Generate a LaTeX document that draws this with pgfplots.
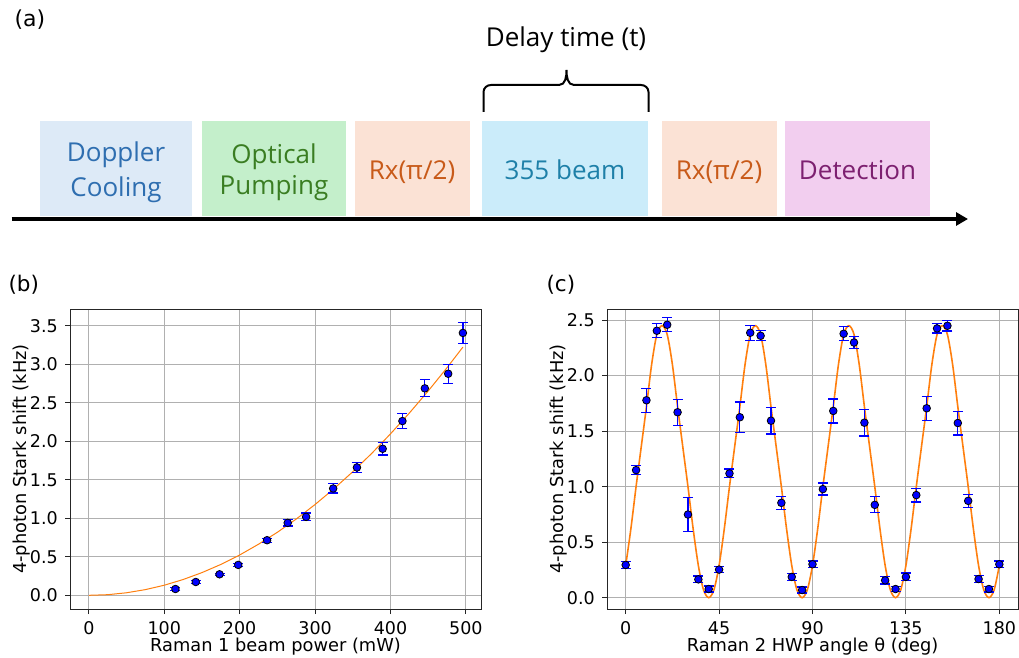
\documentclass[border=0pt]{standalone}
\usepackage{fontspec}
\setmainfont{DejaVu Sans}
\newfontfamily\boxfont{Open Sans}
\usepackage{pgfplots}
\pgfplotsset{compat=1.18}
\usetikzlibrary{arrows.meta}

\definecolor{dopfill}{RGB}{221,234,247}
\definecolor{doptext}{RGB}{46,110,176}
\definecolor{optfill}{RGB}{196,239,203}
\definecolor{opttext}{RGB}{58,125,34}
\definecolor{rxfill}{RGB}{251,226,213}
\definecolor{rxtext}{RGB}{200,90,25}
\definecolor{beamfill}{RGB}{203,236,250}
\definecolor{beamtext}{RGB}{30,128,168}
\definecolor{detfill}{RGB}{242,206,239}
\definecolor{dettext}{RGB}{125,32,112}
\definecolor{fitorange}{RGB}{255,127,14}
\definecolor{gridgray}{RGB}{176,176,176}

\pgfplotsset{
  panel/.style={
    scale only axis, width=411pt, height=300pt, anchor=south west,
    axis line style={line width=1pt, black!85},
    grid=major, major grid style={line width=0.9pt, gridgray},
    tick align=outside, tickpos=left, major tick length=5pt,
    major tick style={line width=1pt, black!85},
    every tick label/.append style={font=\fontsize{17.5}{21}\selectfont},
    /pgf/number format/assume math mode=true,
    xticklabel style={inner sep=0pt, anchor=north, yshift=-7.7pt},
    yticklabel style={inner sep=0pt, anchor=east, xshift=-7pt,
      /pgf/number format/fixed, /pgf/number format/fixed zerofill,
      /pgf/number format/precision=1},
  },
  errs/.style={only marks, mark=none, blue,
    error bars/.cd, y dir=both, y explicit,
    error bar style={draw=blue, line width=1.2pt},
    error mark options={draw=blue, line width=1.2pt, rotate=90, mark size=5pt}},
  dots/.style={only marks, mark=*, mark size=3.8pt,
    mark options={fill=blue, draw=black, line width=0.8pt}},
}

\begin{document}
\begin{tikzpicture}[x=1pt,y=1pt]
\useasboundingbox (0,0) rectangle (1019,657);

% (a) sequence
\node[anchor=base west, font=\fontsize{22}{26}\selectfont] at (11,630) {(a)};
\fill[dopfill]  (40.3,440.5) rectangle (191.6,536.3);
\fill[optfill]  (202,440.5) rectangle (346,536.3);
\fill[rxfill]   (354.5,440.5) rectangle (470,536.3);
\fill[beamfill] (481.8,440.5) rectangle (648,536.3);
\fill[rxfill]   (661.7,440.5) rectangle (776.6,536.3);
\fill[detfill]  (785,440.5) rectangle (930,536.3);
\begin{scope}[every node/.style={anchor=base, font=\boxfont\fontsize{26}{30}\selectfont}]
\node[text=doptext] at (116,495) {Doppler};
\node[text=doptext] at (116,460.5) {Cooling};
\node[text=opttext] at (274,493.7) {Optical};
\node[text=opttext] at (274,462) {Pumping};
\node[text=rxtext] at (412,477) {Rx(π/2)};
\node[text=beamtext] at (565,477) {355 beam};
\node[text=rxtext] at (719,477) {Rx(π/2)};
\node[text=dettext] at (857.5,477) {Detection};
\node[text=black] at (566,610) {Delay time (t)};
\end{scope}
\draw[line width=2pt] (483.5,545) -- (483.5,565) to[out=90,in=180] (491,572)
  -- (559,572) to[out=0,in=-90] (566.5,587) to[out=-90,in=180] (574,572)
  -- (641,572) to[out=0,in=90] (648.5,565) -- (648.5,545);
\draw[line width=4.5pt, -{Triangle[length=12pt,width=13pt]}] (11.7,438) -- (968,438);

% (b) power scan
\node[anchor=base west, font=\fontsize{21.5}{26}\selectfont] at (5,366) {(b)};
\begin{axis}[panel, at={(70pt,48pt)},
  xmin=-25, xmax=520, ymin=-0.178, ymax=3.72,
  xtick={0,100,200,300,400,500}, ytick={0,0.5,1,1.5,2,2.5,3,3.5}]
\addplot[fitorange, line width=1pt] coordinates {
(0,0) (25,0.008) (50,0.033) (75,0.074) (100,0.131) (125,0.205) (150,0.295)
(175,0.401) (200,0.524) (225,0.664) (250,0.819) (275,0.991) (300,1.180)
(325,1.385) (350,1.606) (375,1.843) (400,2.098) (425,2.368) (450,2.655)
(475,2.958) (496,3.225)};
\addplot[errs] table[x=x, y=y, y error=e] {
x y e
114.8 0.082 0.015
141.8 0.173 0.015
173.3 0.273 0.015
198.1 0.395 0.020
236.3 0.716 0.025
263.7 0.941 0.040
288.1 1.019 0.050
324.0 1.388 0.060
355.5 1.661 0.067
389.6 1.904 0.080
415.8 2.264 0.100
445.5 2.689 0.110
476.5 2.879 0.125
496.0 3.409 0.137
};
\addplot[dots] table[x=x, y=y] {
x y
114.8 0.082
141.8 0.173
173.3 0.273
198.1 0.395
236.3 0.716
263.7 0.941
288.1 1.019
324.0 1.388
355.5 1.661
389.6 1.904
415.8 2.264
445.5 2.689
476.5 2.879
496.0 3.409
};
\end{axis}
\node[anchor=base, font=\fontsize{17.8}{21}\selectfont] at (275.5,6) {Raman 1 beam power (mW)};
\node[anchor=base, rotate=90, font=\fontsize{17.8}{21}\selectfont] at (26.5,198) {4-photon Stark shift (kHz)};

% (c) HWP angle scan
\node[anchor=base west, font=\fontsize{21.5}{26}\selectfont] at (543,366) {(c)};
\begin{axis}[panel, at={(607pt,48pt)},
  xmin=-9, xmax=189, ymin=-0.102, ymax=2.6,
  xtick={0,45,90,135,180}, ytick={0,0.5,1,1.5,2,2.5}]
\addplot[fitorange, line width=1.6pt, smooth] coordinates {
(0,0.29) (2.5,0.62) (5,1.00) (7.5,1.36) (10,1.72) (12.5,2.10) (15,2.37)
(17.5,2.45) (20,2.37) (22.5,2.10) (25,1.72) (27.5,1.36) (30,1.00) (32.5,0.62)
(35,0.29) (37.5,0.07) (40,0) (42.5,0.07)
(45,0.29) (47.5,0.62) (50,1.00) (52.5,1.36) (55,1.72) (57.5,2.10) (60,2.37)
(62.5,2.45) (65,2.37) (67.5,2.10) (70,1.72) (72.5,1.36) (75,1.00) (77.5,0.62)
(80,0.29) (82.5,0.07) (85,0) (87.5,0.07)
(90,0.29) (92.5,0.62) (95,1.00) (97.5,1.36) (100,1.72) (102.5,2.10) (105,2.37)
(107.5,2.45) (110,2.37) (112.5,2.10) (115,1.72) (117.5,1.36) (120,1.00) (122.5,0.62)
(125,0.29) (127.5,0.07) (130,0) (132.5,0.07)
(135,0.29) (137.5,0.62) (140,1.00) (142.5,1.36) (145,1.72) (147.5,2.10) (150,2.37)
(152.5,2.45) (155,2.37) (157.5,2.10) (160,1.72) (162.5,1.36) (165,1.00) (167.5,0.62)
(170,0.29) (172.5,0.07) (175,0) (177.5,0.07) (180,0.29)};
\addplot[errs] table[x=x, y=y, y error=e] {
x y e
0 0.295 0.030
5 1.149 0.042
10 1.778 0.107
15 2.404 0.063
20 2.458 0.063
25 1.670 0.117
30 0.749 0.152
35 0.165 0.030
40 0.078 0.027
45 0.253 0.029
50 1.119 0.040
55 1.625 0.137
60 2.386 0.068
65 2.359 0.045
70 1.594 0.120
75 0.854 0.057
80 0.187 0.030
85 0.069 0.027
90 0.301 0.030
95 0.978 0.054
100 1.682 0.108
105 2.377 0.062
110 2.298 0.056
115 1.576 0.120
120 0.836 0.072
125 0.156 0.033
130 0.078 0.024
135 0.187 0.035
140 0.924 0.062
145 1.706 0.108
150 2.425 0.042
155 2.449 0.047
160 1.573 0.107
165 0.872 0.059
170 0.168 0.030
175 0.078 0.026
180 0.301 0.030
};
\addplot[dots] table[x=x, y=y] {
x y
0 0.295
5 1.149
10 1.778
15 2.404
20 2.458
25 1.670
30 0.749
35 0.165
40 0.078
45 0.253
50 1.119
55 1.625
60 2.386
65 2.359
70 1.594
75 0.854
80 0.187
85 0.069
90 0.301
95 0.978
100 1.682
105 2.377
110 2.298
115 1.576
120 0.836
125 0.156
130 0.078
135 0.187
140 0.924
145 1.706
150 2.425
155 2.449
160 1.573
165 0.872
170 0.168
175 0.078
180 0.301
};
\end{axis}
\node[anchor=base, font=\fontsize{17.8}{21}\selectfont] at (812.5,6) {Raman 2 HWP angle θ (deg)};
\node[anchor=base, rotate=90, font=\fontsize{17.8}{21}\selectfont] at (563.5,198) {4-photon Stark shift (kHz)};
\end{tikzpicture}
\end{document}
